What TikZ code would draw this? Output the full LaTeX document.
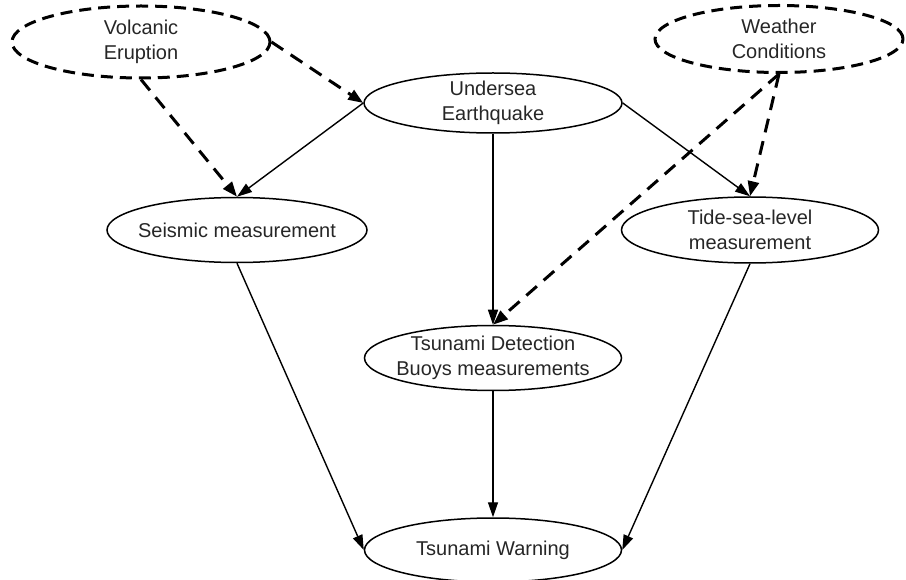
\documentclass[tikz,border=0pt]{standalone}
\usepackage{fontspec}
\setmainfont{Liberation Sans}
\usetikzlibrary{shapes.geometric,arrows.meta}
\begin{document}
\begin{tikzpicture}[x=1pt,y=-1pt,
  every node/.style={font=\fontsize{20}{25.5}\selectfont, text=black!85},
  % negative inner sep keeps each ellipse at its given size, text may touch the rim
  event/.style={ellipse, draw, line width=1.5pt, inner xsep=-45pt, inner ysep=-8pt, align=center},
  cause/.style={event, line width=3pt, dash pattern=on 12pt off 7pt},
  link/.style={line width=1.4pt, -{Triangle[length=15pt,width=10pt]}},
  hint/.style={line width=3pt, dash pattern=on 14pt off 9pt, -{Triangle[length=15pt,width=11pt]}}]
\useasboundingbox (0,0) rectangle (906,580);

\node[cause, minimum width=258pt, minimum height=72pt] (volc) at (141,42) {Volcanic\\Eruption};
\node[cause, minimum width=248pt, minimum height=67pt] (wthr) at (779,39) {Weather\\Conditions};
\node[event, minimum width=258pt, minimum height=60pt] (quake) at (493,103) {Undersea\\Earthquake};
\node[event, minimum width=260pt, minimum height=65pt] (seis) at (237,230) {Seismic measurement};
\node[event, minimum width=257pt, minimum height=66pt] (tide) at (750,230) {Tide-sea-level\\measurement};
\node[event, minimum width=257pt, minimum height=65pt] (buoy) at (493,358) {Tsunami Detection\\Buoys measurements};
\node[event, minimum width=257pt, minimum height=64pt] (warn) at (493,550) {Tsunami Warning};

\draw[hint] (volc.east) -- (quake.west);
\draw[hint] (volc.south) -- (seis.north);
\draw[hint] (wthr.south) -- (buoy.north);
\draw[hint] (wthr.south) -- (tide.north);

\draw[link] (quake.west) -- (seis.north);
\draw[link] (quake.east) -- (tide.north);
\draw[link] (quake.south) -- (buoy.north);
\draw[link] (seis.south) -- (warn.west);
\draw[link] (tide.south) -- (warn.east);
\draw[link] (buoy.south) -- (warn.north);
\end{tikzpicture}
\end{document}
